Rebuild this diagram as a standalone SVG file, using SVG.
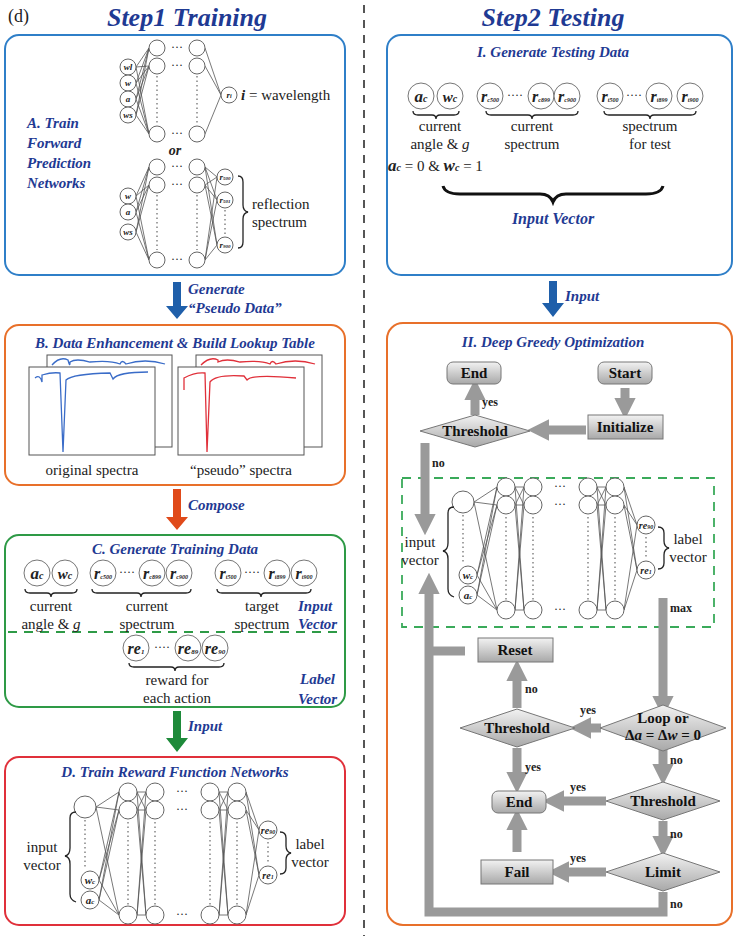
<svg xmlns="http://www.w3.org/2000/svg" xmlns:xlink="http://www.w3.org/1999/xlink" width="740" height="936" viewBox="0 0 740 936" font-family="'Liberation Serif','Times New Roman','DejaVu Serif',serif">
<style>
.t{font-family:'Liberation Serif','Times New Roman','DejaVu Serif',serif;fill:#222}
.h{font-family:'Liberation Serif','Times New Roman','DejaVu Serif',serif;font-weight:bold;font-style:italic;fill:#1f3a93}
.n{fill:#fff;stroke:#666;stroke-width:1}
.e{stroke:#555;stroke-width:0.8;fill:none}
.dt{stroke:#666;stroke-width:1.2;stroke-dasharray:1.5 3;fill:none}
.br{stroke:#222;stroke-width:1.3;fill:none}
.ga{stroke:#9a9a9a;stroke-width:9;fill:none}
.fb{fill:url(#gg);stroke:#777;stroke-width:1}
.fl{font-family:'Liberation Serif','Times New Roman','DejaVu Serif',serif;font-weight:bold;fill:#111;font-size:15px}
.sm{font-family:'Liberation Serif','Times New Roman','DejaVu Serif',serif;font-weight:bold;fill:#222;font-size:12px}
.ci{font-family:'Liberation Serif','Times New Roman','DejaVu Serif',serif;font-weight:bold;font-style:italic;fill:#222}
</style>
<defs>
<linearGradient id="gg" x1="0" y1="0" x2="0" y2="1"><stop offset="0" stop-color="#f2f2f2"/><stop offset="1" stop-color="#a8a8a8"/></linearGradient>
<marker id="gh" viewBox="0 0 10 10" refX="2" refY="5" markerWidth="2.4" markerHeight="2.4" orient="auto"><path d="M0,0 L10,5 L0,10 z" fill="#9a9a9a"/></marker>
<g id="rnet">
<path class="e" d="M96,807 L119,792 M96,807 L119,810 M96,807 L119,915 M99,880 L119,792 M99,880 L119,810 M99,880 L119,915 M99,900 L119,792 M99,900 L119,810 M99,900 L119,915 M137,792 L146,810 M137,810 L146,792 M137,792 L146,915 M137,915 L146,792 M137,810 L146,915 M137,915 L146,810 M137,792 L146,792 M137,810 L146,810 M137,915 L146,915 M219,792 L228,810 M219,810 L228,792 M219,792 L228,915 M219,915 L228,792 M219,810 L228,915 M219,915 L228,810 M219,792 L228,792 M219,810 L228,810 M219,915 L228,915 M246,792 L259,830 M246,810 L259,830 M246,915 L259,830 M246,792 L259,875 M246,810 L259,875 M246,915 L259,875"/>
<path class="dt" d="M85,820 V868 M128,822 V905 M155,822 V905 M210,822 V905 M237,822 V905 M268,842 V864"/>
<circle class="n" cx="85" cy="807" r="11"/><circle class="n" cx="90" cy="880" r="9"/><circle class="n" cx="90" cy="900" r="9"/>
<circle class="n" cx="128" cy="792" r="9"/><circle class="n" cx="128" cy="810" r="9"/><circle class="n" cx="128" cy="915" r="9"/>
<circle class="n" cx="155" cy="792" r="9"/><circle class="n" cx="155" cy="810" r="9"/><circle class="n" cx="155" cy="915" r="9"/>
<circle class="n" cx="210" cy="792" r="9"/><circle class="n" cx="210" cy="810" r="9"/><circle class="n" cx="210" cy="915" r="9"/>
<circle class="n" cx="237" cy="792" r="9"/><circle class="n" cx="237" cy="810" r="9"/><circle class="n" cx="237" cy="915" r="9"/>
<circle class="n" cx="268" cy="830" r="9"/><circle class="n" cx="268" cy="875" r="9"/>
<text class="t" x="182" y="795" font-size="12" text-anchor="middle">···</text><text class="t" x="182" y="813" font-size="12" text-anchor="middle">···</text><text class="t" x="182" y="918" font-size="12" text-anchor="middle">···</text>
<text class="ci" x="90" y="884" font-size="11" text-anchor="middle">w<tspan font-size="7">c</tspan></text>
<text class="ci" x="90" y="904" font-size="11" text-anchor="middle">a<tspan font-size="7">c</tspan></text>
<text class="ci" x="268" y="834" font-size="10" text-anchor="middle">re<tspan font-size="6">90</tspan></text>
<text class="ci" x="268" y="879" font-size="10" text-anchor="middle">re<tspan font-size="6">1</tspan></text>
<path class="br" d="M76,812 Q70,812 70,818 L70,848 Q70,855 65,856 Q70,857 70,864 L70,894 Q70,900 76,902"/>
<text class="t" x="42" y="852" font-size="15" text-anchor="middle">input</text><text class="t" x="42" y="870" font-size="15" text-anchor="middle">vector</text>
<path class="br" d="M280,832 Q286,832 286,838 L286,846 Q286,852 291,853 Q286,854 286,860 L286,868 Q286,874 280,874"/>
<text class="t" x="310" y="849" font-size="15" text-anchor="middle">label</text><text class="t" x="310" y="867" font-size="15" text-anchor="middle">vector</text>
</g>
</defs>
<rect width="740" height="936" fill="#fff"/>
<text class="t" x="8" y="22" font-size="18">(d)</text>
<text class="h" x="187" y="26" font-size="26" text-anchor="middle">Step1 Training</text>
<text class="h" x="553" y="26" font-size="26" text-anchor="middle">Step2 Testing</text>
<line x1="364" y1="5" x2="364" y2="936" stroke="#555" stroke-width="2" stroke-dasharray="8 7"/>

<g id="panelA">
<rect x="5" y="35" width="340" height="240" rx="14" fill="none" stroke="#2f7fc8" stroke-width="2"/>
<text class="h" font-size="15" x="27" y="128">A. Train</text><text class="h" font-size="15" x="27" y="148">Forward</text><text class="h" font-size="15" x="27" y="168">Prediction</text><text class="h" font-size="15" x="27" y="188">Networks</text>
<path class="e" d="M136,67 L149,48 M136,67 L149,66 M136,67 L149,134 M136,83 L149,48 M136,83 L149,66 M136,83 L149,134 M136,99 L149,48 M136,99 L149,66 M136,99 L149,134 M136,115 L149,48 M136,115 L149,66 M136,115 L149,134 M205,48 L221,95 M205,66 L221,95 M205,134 L221,95"/>
<path class="e" d="M136,196 L149,167 M136,196 L149,185 M136,196 L149,260 M136,212 L149,167 M136,212 L149,185 M136,212 L149,260 M136,232 L149,167 M136,232 L149,185 M136,232 L149,260 M205,167 L217,177 M205,167 L217,200 M205,167 L217,245 M205,185 L217,177 M205,185 L217,200 M205,185 L217,245 M205,260 L217,177 M205,260 L217,200 M205,260 L217,245"/>
<path class="dt" d="M157,76 V124 M197,76 V124 M157,195 V250 M197,195 V250 M225,210 V236"/>
<g fill="#fff" stroke="#666">
<circle cx="128" cy="67" r="8"/><circle cx="128" cy="83" r="8"/><circle cx="128" cy="99" r="8"/><circle cx="128" cy="115" r="8"/>
<circle cx="157" cy="48" r="8"/><circle cx="157" cy="66" r="8"/><circle cx="157" cy="134" r="8"/>
<circle cx="197" cy="48" r="8"/><circle cx="197" cy="66" r="8"/><circle cx="197" cy="134" r="8"/>
<circle cx="229" cy="95" r="8"/>
<circle cx="128" cy="196" r="8"/><circle cx="128" cy="212" r="8"/><circle cx="128" cy="232" r="8"/>
<circle cx="157" cy="167" r="8"/><circle cx="157" cy="185" r="8"/><circle cx="157" cy="260" r="8"/>
<circle cx="197" cy="167" r="8"/><circle cx="197" cy="185" r="8"/><circle cx="197" cy="260" r="8"/>
<circle cx="225" cy="177" r="8"/><circle cx="225" cy="200" r="8"/><circle cx="225" cy="245" r="8"/>
</g>
<g class="t" font-size="12" text-anchor="middle"><text x="177" y="51">···</text><text x="177" y="69">···</text><text x="177" y="137">···</text><text x="177" y="170">···</text><text x="177" y="188">···</text><text x="177" y="263">···</text></g>
<g class="ci" font-size="9" text-anchor="middle"><text x="128" y="70">wl</text><text x="128" y="86">w</text><text x="128" y="102">a</text><text x="128" y="118">ws</text><text x="229" y="98">r<tspan font-size="6">i</tspan></text>
<text x="128" y="199">w</text><text x="128" y="215">a</text><text x="128" y="235">ws</text><text x="225" y="180">r<tspan font-size="5">500</tspan></text><text x="225" y="203">r<tspan font-size="5">501</tspan></text><text x="225" y="248">r<tspan font-size="5">900</tspan></text></g>
<text class="t" x="241" y="100" font-size="15"><tspan font-weight="bold" font-style="italic">i</tspan> = wavelength</text>
<text class="ci" x="175" y="155" font-size="14" text-anchor="middle">or</text>
<path class="br" d="M238,176 Q243,176 243,182 L243,205 Q243,211 248,212 Q243,213 243,219 L243,242 Q243,248 238,248"/>
<text class="t" x="252" y="209" font-size="15">reflection</text><text class="t" x="252" y="227" font-size="15">spectrum</text>
</g>

<g id="arrowGen">
<path d="M173,282 H181 V306 H188 L177,319 L166,306 H173 Z" fill="#1f5faa"/>
<text class="h" x="188" y="294" font-size="15">Generate</text><text class="h" x="188" y="313" font-size="15">“Pseudo Data”</text>
</g>

<g id="panelB">
<rect x="5" y="325" width="340" height="160" rx="14" fill="none" stroke="#e8702a" stroke-width="2"/>
<text class="h" x="175" y="348" font-size="15" text-anchor="middle">B. Data Enhancement &amp; Build Lookup Table</text>
<rect x="47" y="355" width="125" height="92" fill="#fff" stroke="#555"/>
<path d="M52,365 Q60,356 68,360 Q70,368 70,362 Q76,358 90,362 Q110,360 120,364 Q122,359 126,364 Q145,358 165,364" fill="none" stroke="#3a6cc8" stroke-width="1.3"/>
<rect x="29" y="367" width="126" height="88" fill="#fff" stroke="#555"/>
<path d="M35,378 Q40,374 42,382 L42,375 Q52,372 60,373 L63,452 L66,380 Q72,374 110,373 L113,379 Q118,372 148,372" fill="none" stroke="#3a6cc8" stroke-width="1.3"/>
<rect x="196" y="355" width="126" height="92" fill="#fff" stroke="#555"/>
<path d="M201,365 Q210,356 218,360 L218,362 Q226,358 240,362 Q260,360 270,364 Q272,359 276,364 Q295,358 315,364" fill="none" stroke="#e0303a" stroke-width="1.3"/>
<rect x="178" y="367" width="126" height="88" fill="#fff" stroke="#555"/>
<path d="M184,390 L184,378 Q195,372 205,373 L207,452 L210,382 Q216,374 244,376 L247,380 Q252,374 296,378" fill="none" stroke="#e0303a" stroke-width="1.3"/>
<text class="t" x="92" y="475" font-size="15" text-anchor="middle">original spectra</text>
<text class="t" x="241" y="475" font-size="15" text-anchor="middle">“pseudo” spectra</text>
</g>

<g id="arrowComp">
<path d="M173,489 H181 V517 H188 L177,530 L166,517 H173 Z" fill="#e04a1a"/>
<text class="h" x="188" y="510" font-size="15">Compose</text>
</g>

<g id="panelC">
<rect x="5" y="535" width="340" height="172" rx="14" fill="none" stroke="#2e9a46" stroke-width="2"/>
<text class="h" x="175" y="554" font-size="15" text-anchor="middle">C. Generate Training Data</text>
<line x1="8" y1="632" x2="343" y2="632" stroke="#2e9a46" stroke-width="2" stroke-dasharray="9 7"/>
<g fill="#fff" stroke="#777"><circle cx="37" cy="573" r="13"/><circle cx="65" cy="573" r="13"/><circle cx="103" cy="573" r="13"/><circle cx="152" cy="573" r="13"/><circle cx="179" cy="573" r="13"/><circle cx="228" cy="573" r="13"/><circle cx="277" cy="573" r="13"/><circle cx="304" cy="573" r="13"/>
<circle cx="136" cy="648" r="13"/><circle cx="188" cy="648" r="13"/><circle cx="215" cy="648" r="13"/></g>
<g class="ci" text-anchor="middle"><text x="37" y="579" font-size="17">a<tspan font-size="10">c</tspan></text><text x="65" y="579" font-size="15">w<tspan font-size="10">c</tspan></text>
<text x="103" y="579" font-size="16">r<tspan font-size="6">c500</tspan></text><text x="152" y="579" font-size="16">r<tspan font-size="6">c899</tspan></text><text x="179" y="579" font-size="16">r<tspan font-size="6">c900</tspan></text>
<text x="228" y="579" font-size="16">r<tspan font-size="6">t500</tspan></text><text x="277" y="579" font-size="16">r<tspan font-size="6">t899</tspan></text><text x="304" y="579" font-size="16">r<tspan font-size="6">t900</tspan></text>
<text x="136" y="654" font-size="16">re<tspan font-size="7">1</tspan></text><text x="188" y="654" font-size="16">re<tspan font-size="7">89</tspan></text><text x="215" y="654" font-size="16">re<tspan font-size="7">90</tspan></text></g>
<g class="t" font-size="12" text-anchor="middle"><text x="127" y="576">····</text><text x="252" y="576">····</text><text x="162" y="651">····</text></g>
<path class="br" d="M25,589 Q25,593 30,593 L47,593 Q51,593 51,597 Q51,593 55,593 L72,593 Q77,593 77,589"/>
<path class="br" d="M92,589 Q92,593 97,593 L137,593 Q141,593 141,597 Q141,593 145,593 L186,593 Q191,593 191,589"/>
<path class="br" d="M217,589 Q217,593 222,593 L257,593 Q261,593 261,597 Q261,593 265,593 L306,593 Q311,593 311,589"/>
<path class="br" d="M129,663 Q129,667 134,667 L171,667 Q175,667 175,671 Q175,667 179,667 L219,667 Q224,667 224,663"/>
<g class="t" font-size="15" text-anchor="middle"><text x="51" y="611">current</text><text x="51" y="629">angle &amp; <tspan font-style="italic">g</tspan></text>
<text x="147" y="611">current</text><text x="147" y="629">spectrum</text><text x="262" y="611">target</text><text x="262" y="629">spectrum</text>
<text x="177" y="685">reward for</text><text x="177" y="703">each action</text></g>
<g class="h" font-size="15"><text x="298" y="611">Input</text><text x="298" y="629">Vector</text><text x="300" y="684">Label</text><text x="298" y="704">Vector</text></g>
</g>

<g id="arrowIn1">
<path d="M173,711 H181 V738 H188 L177,752 L166,738 H173 Z" fill="#1e8a3a"/>
<text class="h" x="188" y="731" font-size="15">Input</text>
</g>

<g id="panelD">
<rect x="5" y="757" width="340" height="168" rx="14" fill="none" stroke="#e0303a" stroke-width="2"/>
<text class="h" x="175" y="777" font-size="15" text-anchor="middle">D. Train Reward Function Networks</text>
<use xlink:href="#rnet"/>
</g>

<g id="panelI">
<rect x="387" y="35" width="345" height="240" rx="14" fill="none" stroke="#2f7fc8" stroke-width="2"/>
<text class="h" x="553" y="57" font-size="15" text-anchor="middle">I. Generate Testing Data</text>
<g fill="#fff" stroke="#777"><circle cx="421" cy="96" r="13"/><circle cx="450" cy="96" r="13"/><circle cx="490" cy="96" r="13"/><circle cx="541" cy="96" r="13"/><circle cx="567" cy="96" r="13"/><circle cx="610" cy="96" r="13"/><circle cx="659" cy="96" r="13"/><circle cx="690" cy="96" r="13"/></g>
<g class="ci" text-anchor="middle"><text x="421" y="102" font-size="17">a<tspan font-size="10">c</tspan></text><text x="450" y="102" font-size="15">w<tspan font-size="10">c</tspan></text>
<text x="490" y="102" font-size="16">r<tspan font-size="6">c500</tspan></text><text x="541" y="102" font-size="16">r<tspan font-size="6">c899</tspan></text><text x="567" y="102" font-size="16">r<tspan font-size="6">c900</tspan></text>
<text x="610" y="102" font-size="16">r<tspan font-size="6">t500</tspan></text><text x="659" y="102" font-size="16">r<tspan font-size="6">t899</tspan></text><text x="690" y="102" font-size="16">r<tspan font-size="6">t900</tspan></text></g>
<g class="t" font-size="12" text-anchor="middle"><text x="515" y="99">····</text><text x="634" y="99">····</text></g>
<path class="br" d="M413,111 Q413,115 418,115 L432,115 Q436,115 436,119 Q436,115 440,115 L454,115 Q459,115 459,111"/>
<path class="br" d="M486,111 Q486,115 491,115 L528,115 Q532,115 532,119 Q532,115 536,115 L573,115 Q578,115 578,111"/>
<path class="br" d="M604,111 Q604,115 609,115 L646,115 Q650,115 650,119 Q650,115 654,115 L691,115 Q696,115 696,111"/>
<g class="t" font-size="15" text-anchor="middle"><text x="440" y="131">current</text><text x="440" y="149">angle &amp; <tspan font-style="italic">g</tspan></text>
<text x="532" y="131">current</text><text x="532" y="149">spectrum</text><text x="650" y="131">spectrum</text><text x="650" y="149">for test</text></g>
<text class="t" x="388" y="171" font-size="15"><tspan font-weight="bold" font-style="italic" font-size="17">a</tspan><tspan font-size="10" font-weight="bold" font-style="italic">c</tspan> = 0 &amp; <tspan font-weight="bold" font-style="italic" font-size="17">w</tspan><tspan font-size="10" font-weight="bold" font-style="italic">c</tspan> = 1</text>
<path d="M443,186 Q445,194 460,194 L540,194 Q550,194 553,202 Q556,194 566,194 L646,194 Q661,194 663,186" fill="none" stroke="#111" stroke-width="3"/>
<text class="h" x="553" y="224" font-size="16" text-anchor="middle">Input Vector</text>
</g>

<g id="arrowIn2">
<path d="M549,281 H557 V303 H564 L553,317 L542,303 H549 Z" fill="#1f5faa"/>
<text class="h" x="565" y="301" font-size="15">Input</text>
</g>

<g id="panelII">
<rect x="387" y="323" width="345" height="602" rx="16" fill="none" stroke="#e8702a" stroke-width="2"/>
<text class="h" x="553" y="347" font-size="15" text-anchor="middle">II. Deep Greedy Optimization</text>
<rect x="402" y="478" width="312" height="149" fill="none" stroke="#3aaa5a" stroke-width="1.8" stroke-dasharray="9 7"/>
<use xlink:href="#rnet" transform="translate(378,-305)"/>
</g>

<g id="connectors">
<path class="ga" d="M625,388 V402" marker-end="url(#gh)"/>
<path class="ga" d="M586,430 H545" marker-end="url(#gh)"/>
<path class="ga" d="M475,415 V396" marker-end="url(#gh)"/>
<path class="ga" d="M425,443 V518" marker-end="url(#gh)"/>
<path class="ga" d="M663,598 V700" marker-end="url(#gh)"/>
<path class="ga" d="M601,728 H587" marker-end="url(#gh)"/>
<path class="ga" d="M517,708 V677" marker-end="url(#gh)"/>
<path class="ga" d="M517,748 V776" marker-end="url(#gh)"/>
<path class="ga" d="M663,750 V768" marker-end="url(#gh)"/>
<path class="ga" d="M606,801 H560" marker-end="url(#gh)"/>
<path class="ga" d="M663,821 V840" marker-end="url(#gh)"/>
<path class="ga" d="M606,872 H565" marker-end="url(#gh)"/>
<path class="ga" d="M517,852 V826" marker-end="url(#gh)"/>
<path class="ga" d="M663,892 V912 H429 V590" marker-end="url(#gh)"/>
<path class="ga" d="M429,651 H465"/>
<g class="sm"><text x="482" y="406">yes</text><text x="432" y="467">no</text><text x="670" y="612">max</text><text x="580" y="714">yes</text><text x="525" y="693">no</text><text x="525" y="771">yes</text><text x="670" y="764">no</text><text x="570" y="791">yes</text><text x="670" y="838">no</text><text x="570" y="862">yes</text><text x="670" y="908">no</text></g>
</g>

<g id="fEnd1"><rect class="fb" x="447" y="362" width="54" height="22" rx="6"/><text class="fl" x="474" y="378" text-anchor="middle">End</text></g>
<g id="fStart"><rect class="fb" x="598" y="362" width="54" height="22" rx="6"/><text class="fl" x="625" y="378" text-anchor="middle">Start</text></g>
<g id="fInit"><rect class="fb" x="588" y="415" width="75" height="24"/><text class="fl" x="625" y="432" text-anchor="middle">Initialize</text></g>
<g id="fThr1"><path class="fb" d="M420,431 L475,415 L530,431 L475,447 Z"/><text class="fl" x="475" y="436" text-anchor="middle">Threshold</text></g>
<g id="fReset"><rect class="fb" x="478" y="638" width="75" height="24"/><text class="fl" x="515" y="655" text-anchor="middle">Reset</text></g>
<g id="fThr2"><path class="fb" d="M460,728 L517,709 L575,728 L517,747 Z"/><text class="fl" x="517" y="733" text-anchor="middle">Threshold</text></g>
<g id="fLoop"><path class="fb" d="M600,728 L663,705 L726,728 L663,751 Z"/><text class="fl" x="663" y="723" text-anchor="middle" font-size="11">Loop or</text><text class="fl" x="663" y="740" text-anchor="middle" font-size="11">Δ<tspan font-style="italic">a</tspan> = Δ<tspan font-style="italic">w</tspan> = 0</text></g>
<g id="fEnd2"><rect class="fb" x="492" y="791" width="54" height="22" rx="6"/><text class="fl" x="519" y="807" text-anchor="middle">End</text></g>
<g id="fThr3"><path class="fb" d="M606,801 L663,782 L720,801 L663,820 Z"/><text class="fl" x="663" y="806" text-anchor="middle">Threshold</text></g>
<g id="fLimit"><path class="fb" d="M606,872 L663,853 L720,872 L663,891 Z"/><text class="fl" x="663" y="877" text-anchor="middle">Limit</text></g>
<g id="fFail"><rect class="fb" x="481" y="860" width="72" height="24"/><text class="fl" x="517" y="877" text-anchor="middle">Fail</text></g>
</svg>
